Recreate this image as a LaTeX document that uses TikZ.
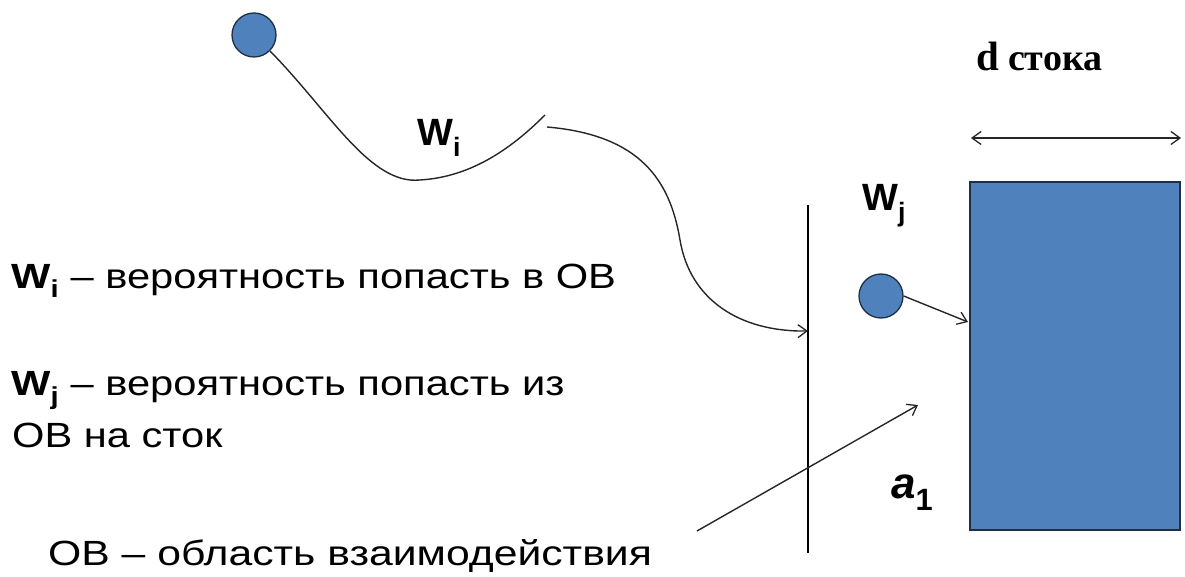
\documentclass[tikz,border=0pt]{standalone}
\usepackage{fontspec}
\setmainfont{Liberation Sans}
\newfontfamily\serifb{Liberation Serif}
\newfontfamily\widesans[FakeStretch=1.19]{Liberation Sans}
\usetikzlibrary{arrows.meta}
\definecolor{boxblue}{HTML}{4F81BD}
\definecolor{boxedge}{HTML}{1F2F45}
\tikzset{
  ball/.style={circle, draw=boxedge, line width=1.3pt, fill=boxblue, minimum size=44pt, inner sep=0pt},
  conn/.style={line width=1.4pt, draw=black!85},
  arr/.style={conn, -{Straight Barb[length=9pt,width=13pt,line width=1.3pt]}},
  dblarr/.style={conn, {Straight Barb[length=9pt,width=13pt,line width=1.3pt]}-{Straight Barb[length=9pt,width=13pt,line width=1.3pt]}},
  txt/.style={anchor=base west, inner sep=0pt, font=\widesans\fontsize{35}{42}\selectfont},
  lbl/.style={anchor=base west, inner sep=0pt, font=\fontsize{38}{44}\selectfont\bfseries},
}
\begin{document}
\begin{tikzpicture}[x=1pt,y=-1pt]
\useasboundingbox (0,0) rectangle (1185,577);
% top particle and its path
\node[ball] (p1) at (254,35) {};
\coordinate (c1end) at (545,115);
\draw[conn] (p1.-45) .. controls (330,112) and (370,185) .. (420,180) .. controls (470,177) and (510,150) .. (c1end);
\node[lbl] (wi) at (417,146) {W\textsubscript{i}};
% vertical line (OB boundary)
\coordinate (vtop) at (808,205);
\coordinate (vbot) at (808,553);
\draw[line width=1.6pt] (vtop) -- (vbot);
% curve into OB
\coordinate (c2start) at (547,127);
\coordinate (c2end) at (808,331);
\draw[arr] (c2start) .. controls (640,135) and (670,180) .. (680,240) .. controls (690,300) and (740,332) .. (c2end);
% sink rectangle
\node[draw=boxedge, line width=1.5pt, fill=boxblue, minimum width=210pt, minimum height=348pt, inner sep=0pt] (sink) at (1075,356) {};
% second particle
\node[ball] (p2) at (881,296) {};
\coordinate (hit) at (968,322);
\draw[arr] (p2.east) -- (hit);
\node[lbl] (wj) at (862,211) {W\textsubscript{j}};
% width arrow
\coordinate (dl) at (971,138);
\coordinate (dr) at (1181,138);
\draw[dblarr] (dl) -- (dr);
\node[anchor=base west, inner sep=0pt] (dlab) at (976,71) {\serifb\bfseries{\fontsize{41}{44}\selectfont d}\hspace{9pt}{\fontsize{38}{42}\selectfont стока}};
% a1 label
\node[anchor=base west, inner sep=0pt, font=\fontsize{44}{50}\selectfont\bfseries\itshape] (a1) at (891,498) {a\textsubscript{\upshape 1}};
% crossing arrow
\coordinate (xs) at (697,531);
\coordinate (xe) at (918,405);
\draw[arr] (xs) -- (xe);
% legend texts
\node[txt] (t1) at (11,288) {\textbf{W\textsubscript{i}} – вероятность попасть в ОВ};
\node[txt] (t2) at (11,395) {\textbf{W\textsubscript{j}} – вероятность попасть из};
\node[txt] (t3) at (12,447) {ОВ на сток};
\node[txt] (t4) at (48,565) {\addfontfeature{FakeStretch=1.22}ОВ – область взаимодействия};
\end{tikzpicture}
\end{document}
